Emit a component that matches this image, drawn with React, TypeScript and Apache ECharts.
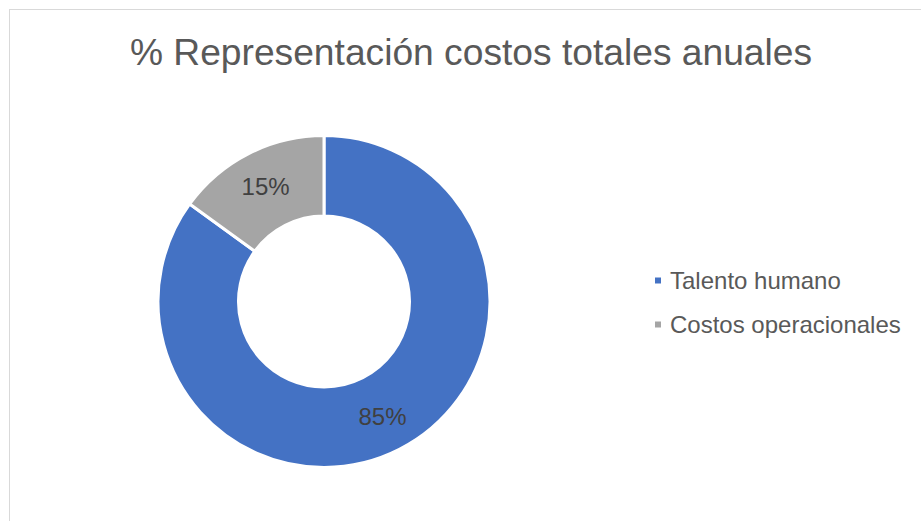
import React, { useEffect, useRef } from "react";
import * as echarts from "echarts";

const titleText = "% Representación costos totales anuales";
const categories = ["Talento humano", "Costos operacionales"];
const values = [85, 15];
const colors = ["#4472C4", "#A5A5A5"];

export default function App() {
  const ref = useRef<HTMLDivElement>(null);
  useEffect(() => {
    if (!ref.current) return;
    const chart = echarts.init(ref.current, undefined, { renderer: "svg" });
    const font = "'Liberation Sans', Arial, sans-serif";
    chart.setOption({
      animation: false,
      backgroundColor: "#ffffff",
      title: {
        text: titleText,
        left: "center",
        top: 23.5,
        padding: 0,
        textStyle: { fontFamily: font, fontSize: 37.2, fontWeight: "normal", color: "#595959" },
      },
      legend: {
        orient: "vertical",
        left: 643,
        top: 258.5,
        padding: 0,
        itemWidth: 8,
        itemHeight: 8,
        itemGap: 20,
        icon: "rect",
        data: categories,
        textStyle: { fontFamily: font, fontSize: 24, color: "#595959", lineHeight: 24, padding: [0, 0, 0, 3] },
      },
      series: [
        {
          type: "pie",
          center: [314, 291.5],
          radius: [85.5, 166],
          startAngle: 90,
          clockwise: true,
          avoidLabelOverlap: false,
          itemStyle: { borderColor: "#ffffff", borderWidth: 3 },
          label: {
            show: true,
            position: "inside",
            formatter: (p: any) => p.value + "%",
            fontFamily: font,
            fontSize: 24,
            color: "#404040",
          },
          labelLine: { show: false },
          emphasis: { disabled: true },
          data: categories.map((c, i) => ({ name: c, value: values[i], itemStyle: { color: colors[i] } })),
        },
      ],
    });
    return () => chart.dispose();
  }, []);
  return (
    <div
      ref={ref}
      style={{
        position: "absolute",
        left: 9,
        top: 9,
        width: 922,
        height: 530,
        border: "1px solid #d9d9d9",
      }}
    />
  );
}
